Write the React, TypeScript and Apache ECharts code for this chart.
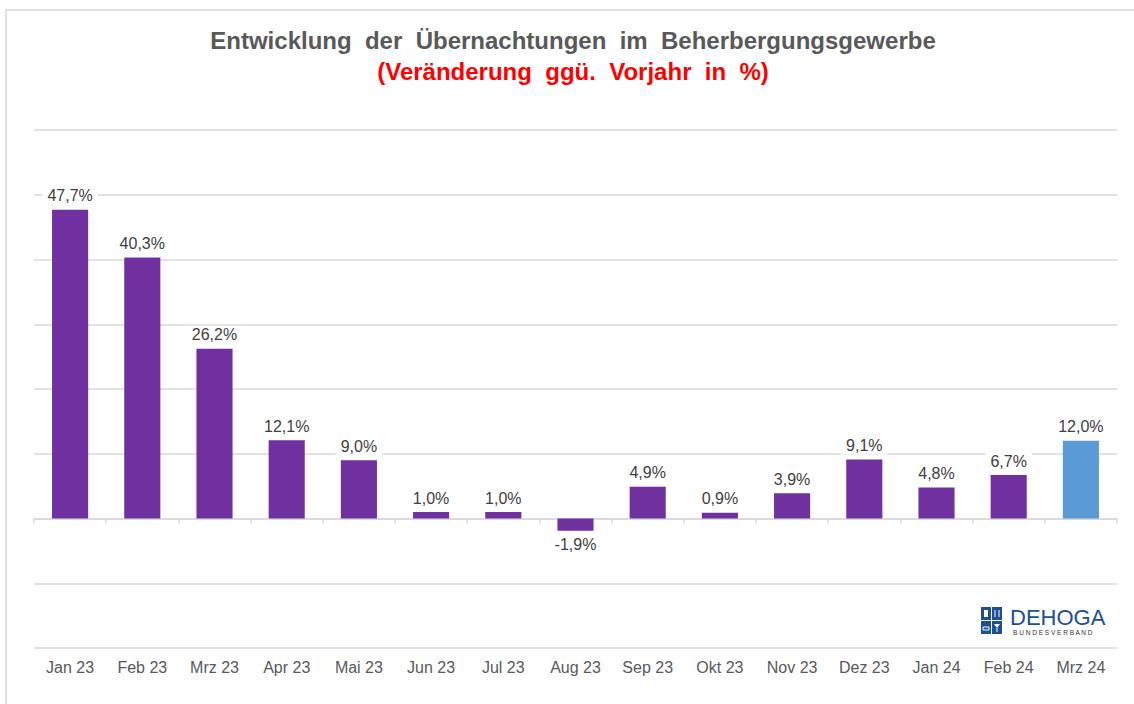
import React, { useEffect, useRef } from "react";
import * as echarts from "echarts";

const categories = [
  "Jan 23", "Feb 23", "Mrz 23", "Apr 23", "Mai 23", "Jun 23", "Jul 23", "Aug 23",
  "Sep 23", "Okt 23", "Nov 23", "Dez 23", "Jan 24", "Feb 24", "Mrz 24",
];
const values = [47.7, 40.3, 26.2, 12.1, 9.0, 1.0, 1.0, -1.9, 4.9, 0.9, 3.9, 9.1, 4.8, 6.7, 12.0];
const highlightIndex = 14;

const titleText = "Entwicklung  der  Übernachtungen  im  Beherbergungsgewerbe";
const subtitleText = "(Veränderung  ggü.  Vorjahr  in  %)";

const PURPLE = "#7030a0";
const BLUE = "#5b9bd5";
const GRID = "#d9d9d9";
const LOGO = "#1d4f91";

export default function App() {
  const ref = useRef<HTMLDivElement>(null);
  useEffect(() => {
    if (!ref.current) return;
    const chart = echarts.init(ref.current, undefined, { renderer: "svg" });
    const fmt = (v: number) => v.toFixed(1).replace(".", ",") + "%";
    chart.setOption({
      animation: false,
      backgroundColor: "#ffffff",
      textStyle: { fontFamily: "Liberation Sans, Arial, sans-serif" },
      grid: { left: 34, right: 17, top: 130, bottom: 56, containLabel: false, outerBoundsMode: "none" },
      xAxis: [
        {
          type: "category",
          data: categories,
          position: "bottom",
          axisLine: { show: false, onZero: false },
          axisTick: { show: false },
          axisLabel: { margin: 11, fontSize: 16, color: "#595959" },
        },
        {
          type: "category",
          data: categories,
          position: "bottom",
          axisLine: { onZero: true, lineStyle: { color: GRID, width: 1.5 } },
          axisTick: { show: true, length: 5, lineStyle: { color: GRID, width: 1.5 } },
          axisLabel: { show: false },
        },
      ],
      yAxis: {
        type: "value",
        min: -20,
        max: 60,
        interval: 10,
        axisLabel: { show: false },
        axisLine: { show: false },
        axisTick: { show: false },
        splitLine: { lineStyle: { color: GRID, width: 1.5 } },
      },
      series: [
        {
          type: "bar",
          xAxisIndex: 0,
          barWidth: "50%",
          data: values.map((v, i) => ({
            value: v,
            itemStyle: { color: i === highlightIndex ? BLUE : PURPLE },
            label: { position: v < 0 ? "bottom" : "top" },
          })),
          label: {
            show: true,
            distance: 5,
            fontSize: 16,
            color: "#404040",
            backgroundColor: "#ffffff",
            padding: [1, 5],
            formatter: (p: any) => fmt(p.value),
          },
        },
      ],
      graphic: [
        {
          type: "rect",
          shape: { x: 6, y: 10, width: 1150, height: 720 },
          style: { fill: "none", stroke: GRID, lineWidth: 1.5 },
          silent: true,
        },
        {
          type: "text",
          x: 573,
          y: 40,
          style: {
            text: titleText,
            fill: "#595959",
            font: "bold 24px 'Liberation Sans', Arial, sans-serif",
            textAlign: "center",
            textVerticalAlign: "middle",
          },
        },
        {
          type: "text",
          x: 573,
          y: 71,
          style: {
            text: subtitleText,
            fill: "#ff0000",
            font: "bold 24px 'Liberation Sans', Arial, sans-serif",
            textAlign: "center",
            textVerticalAlign: "middle",
          },
        },
        {
          type: "group",
          x: 981,
          y: 607,
          children: [
            { type: "rect", shape: { x: 0, y: 0, width: 10, height: 13 }, style: { fill: LOGO } },
            { type: "rect", shape: { x: 11, y: 0, width: 10, height: 13 }, style: { fill: LOGO } },
            { type: "rect", shape: { x: 0, y: 14, width: 10, height: 13 }, style: { fill: LOGO } },
            { type: "rect", shape: { x: 11, y: 14, width: 10, height: 13 }, style: { fill: LOGO } },
            { type: "rect", shape: { x: 3, y: 3, width: 4, height: 7 }, style: { fill: "#ffffff" } },
            { type: "line", shape: { x1: 14, y1: 3, x2: 14, y2: 10 }, style: { stroke: "#ffffff", lineWidth: 1 } },
            { type: "line", shape: { x1: 18, y1: 3, x2: 18, y2: 10 }, style: { stroke: "#ffffff", lineWidth: 1 } },
            { type: "rect", shape: { x: 2, y: 20, width: 6, height: 3 }, style: { fill: "none", stroke: "#ffffff", lineWidth: 1 } },
            { type: "polygon", shape: { points: [[13, 17], [19, 17], [16, 21]] }, style: { fill: "#ffffff" } },
            { type: "line", shape: { x1: 16, y1: 21, x2: 16, y2: 25 }, style: { stroke: "#ffffff", lineWidth: 1 } },
            {
              type: "text",
              x: 29,
              y: 10,
              style: {
                text: "DEHOGA",
                fill: LOGO,
                font: "22px 'Liberation Sans', Arial, sans-serif",
                textVerticalAlign: "middle",
              },
            },
            {
              type: "text",
              x: 32,
              y: 25,
              style: {
                text: "B U N D E S V E R B A N D",
                fill: "#333333",
                font: "6.5px 'Liberation Sans', Arial, sans-serif",
                textVerticalAlign: "middle",
              },
            },
          ],
        },
      ],
    });
    return () => chart.dispose();
  }, []);
  return (
    <div
      ref={ref}
      style={{ position: "absolute", left: 0, top: 0, width: 1134, height: 704 }}
    />
  );
}
